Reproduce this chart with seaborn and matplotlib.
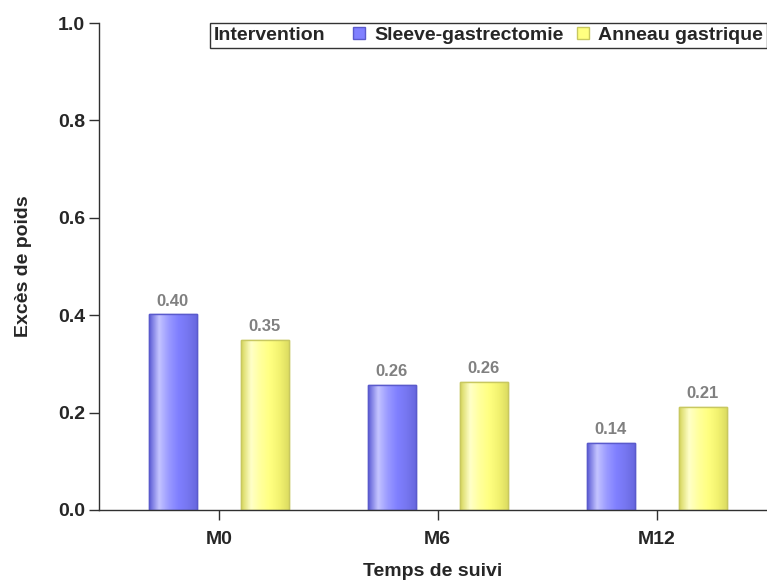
import numpy as np
import pandas as pd
import seaborn as sns
import matplotlib.pyplot as plt
from matplotlib.patches import Patch
from matplotlib.colors import LinearSegmentedColormap
from matplotlib.offsetbox import DrawingArea

temps = ["M0", "M6", "M12"]
groupes = ["Sleeve-gastrectomie", "Anneau gastrique"]
sleeve = [0.402, 0.257, 0.138]
anneau = [0.350, 0.263, 0.212]

df = pd.DataFrame({
    "temps": temps * 2,
    "intervention": [groupes[0]] * 3 + [groupes[1]] * 3,
    "exces": sleeve + anneau,
})

couleurs = {groupes[0]: "#8080ff", groupes[1]: "#ffff80"}
# degradés façon SAS : bord sombre, reflet clair, teinte de base
grad = {
    groupes[0]: ["#5c5cd6", "#c4c4ff", "#9a9aff", "#8080ff", "#7676f0", "#6666dd"],
    groupes[1]: ["#d6d65c", "#ffffc8", "#ffff9c", "#ffff80", "#f2f270", "#dada60"],
}
bords = {groupes[0]: "#5a5acc", groupes[1]: "#c8c860"}

sns.set_style("white")
plt.rcParams["font.family"] = ["Liberation Sans", "DejaVu Sans"]

fig = plt.figure(figsize=(7.67, 5.80), dpi=100)
ax = fig.add_axes([99 / 767, 70 / 580, 668 / 767, 487 / 580])

sns.barplot(data=df, x="temps", y="exces", hue="intervention", order=temps,
            hue_order=groupes, palette=couleurs, width=0.84, gap=0.476,
            linewidth=1, ax=ax, legend=False)

for cont, g in zip(ax.containers, groupes):
    cmap = LinearSegmentedColormap.from_list(g, grad[g])
    img = np.linspace(0, 1, 64).reshape(1, -1)
    for bar, val in zip(cont, df.loc[df.intervention == g, "exces"]):
        bar.set_edgecolor(bords[g])
        x0, w, h = bar.get_x(), bar.get_width(), bar.get_height()
        im = ax.imshow(img, cmap=cmap, aspect="auto", extent=[x0, x0 + w, 0, h],
                       zorder=bar.get_zorder() + 0.1, interpolation="bilinear")
        im.set_clip_path(bar)
        ax.annotate(f"{val:.2f}", (x0 + w / 2, h), xytext=(0, 4),
                    textcoords="offset points", ha="center", va="bottom",
                    color="#808080", fontsize=12, fontweight="bold")
    for bar in cont:
        ax.add_patch(plt.Rectangle((bar.get_x(), 0), bar.get_width(), bar.get_height(),
                                   fill=False, edgecolor=bords[g], linewidth=1,
                                   zorder=bar.get_zorder() + 0.2))

ax.set_xlim(-0.547, 2.504)
ax.set_ylim(0, 1.0)
ax.set_yticks([0, 0.2, 0.4, 0.6, 0.8, 1.0])
ax.set_yticklabels(["0.0", "0.2", "0.4", "0.6", "0.8", "1.0"])
sns.despine(ax=ax)
for s in ["left", "bottom"]:
    ax.spines[s].set_color("#303030")
    ax.spines[s].set_linewidth(1)
ax.tick_params(axis="y", left=True, direction="out", length=7, width=1,
               color="#303030", labelsize=14, pad=3)
ax.tick_params(axis="x", bottom=True, direction="out", length=7, width=1,
               color="#303030", labelsize=14, pad=8)
for lab in ax.get_xticklabels() + ax.get_yticklabels():
    lab.set_fontweight("bold")

ax.set_xlabel("Temps de suivi", fontsize=14, fontweight="bold", labelpad=11)
ax.set_ylabel("Excès de poids", fontsize=14, fontweight="bold", labelpad=19)

handles = [Patch(facecolor=couleurs[g], edgecolor=bords[g]) for g in groupes]
leg = ax.legend(handles, groupes, title="Intervention", ncol=2, loc="upper right",
                bbox_to_anchor=(1.0, 1.0), borderaxespad=0, fancybox=False,
                frameon=True, edgecolor="black",
                prop={"size": 14, "weight": "bold"},
                title_fontproperties={"size": 14, "weight": "bold"},
                handlelength=0.62, handleheight=0.62, handletextpad=0.46,
                columnspacing=0.72, borderpad=0.2)
leg.get_frame().set_linewidth(1)
# titre de la légende sur la même ligne que les entrées
box = leg.get_children()[0]
titre, entrees = box.get_children()[0], box.get_children()[1]
box._children = [entrees]
entrees._children = [titre, DrawingArea(0, 0)] + entrees.get_children()
entrees.sep = 10

fig.savefig("out.png", dpi=100)
